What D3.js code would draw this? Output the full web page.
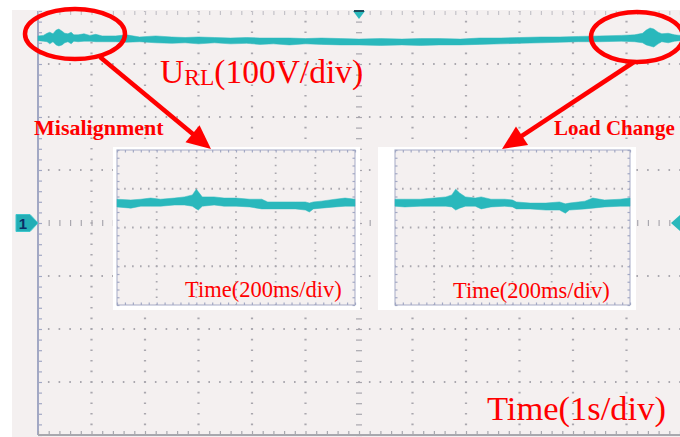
<!DOCTYPE html>
<html><head><meta charset="utf-8">
<script src="https://cdn.jsdelivr.net/npm/d3@7"></script>
<style>html,body{margin:0;padding:0;background:#fff;overflow:hidden}</style>
</head><body><svg id="c" width="680" height="437"></svg>
<script>
// ---- Main record: U_RL, 1 s/div horizontally, 100 V/div vertically ----
const mainTime = [0,0.1,0.17,0.22,0.28,0.34,0.39,0.45,0.5,0.56,0.62,0.67,0.75,0.86,0.97,1.08,1.2,1.45,1.65,1.9,2.2,2.5,2.75,3.0,3.3,3.6,3.9,4.15,4.4,4.7,5.0,5.3,5.65,6.0,6.4,6.8,7.15,7.5,7.9,8.25,8.65,9.0,9.4,9.75,10.1,10.5,10.9,11.15,11.3,11.37,11.44,11.51,11.59,11.66,11.78,11.9,12.0];
const mainHigh = [353,354,358,360,357,364,366,362,358,357,360,355,355,357,354,356,353,353,355,351,353,351,350,351,350,349,350,349,349,349,348,349,348,347,348,347,348,348,347,349,349,350,351,351,352,353,354,355,358,364,368,366,360,357,358,355,354];
const mainLow  = [344,343,342,338,342,336,334,336,340,342,338,343,342,343,343,342,342,342,341,342,340,339,340,338,340,338,339,337,338,336,338,337,336,336,335,336,335,336,336,337,338,339,340,341,342,342,343,342,340,336,334,332,338,342,340,343,344];

// ---- Zoomed record: misalignment, 200 ms/div ----
const misTime = [0,0.07,0.12,0.17,0.22,0.29,0.34,0.38,0.40,0.41,0.43,0.49,0.54,0.60,0.67,0.73,0.76,0.82,0.90,0.95,0.97,0.99,1.03,1.10,1.15,1.2];
const misHigh = [363,361,363,366,363,366,369,374,389,382,369,369,366,366,363,363,356,356,356,356,353,356,358,363,366,363];
const misLow  = [343,340,345,345,345,348,348,345,338,335,345,348,345,345,343,338,338,338,338,335,330,338,340,343,345,345];

// ---- Zoomed record: load change, 200 ms/div ----
const loadTime = [0,0.05,0.13,0.20,0.26,0.29,0.31,0.33,0.36,0.41,0.44,0.49,0.56,0.60,0.62,0.69,0.77,0.84,0.87,0.89,0.97,1.01,1.07,1.15,1.2];
const loadHigh = [363,363,363,366,369,374,389,379,369,366,369,363,363,361,356,353,353,356,351,353,358,366,361,363,366];
const loadLow  = [345,343,345,345,345,343,335,340,345,345,338,343,345,343,338,338,335,335,327,335,338,340,343,345,345];

// ---- Texts ----
const voltLabelMain = "U", voltLabelSub = "RL", voltLabelRest = "(100V/div)";
const mainTimeLabel = "Time(1s/div)";
const zoomTimeLabel = "Time(200ms/div)";
const leftEvent = "Misalignment", rightEvent = "Load Change";

const svg = d3.select("#c");
const TRACE = "#2ab8bc", RED = "#ff0000", GRIDC = "#a9a7ae", BORDER = "#a2a8c4";

svg.append("rect").attr("x",0).attr("y",0).attr("width",680).attr("height",437).attr("fill","#fff");
svg.append("rect").attr("x",12).attr("y",10).attr("width",668).attr("height",427).attr("fill","#f4f0f0");

// scales
const xMain = d3.scaleLinear().domain([0,12]).range([38,680]);
const yMain = d3.scaleLinear().domain([-400,400]).range([435,11]);

function grid(g, x, y, xDivs, yDivs, xMinor, yMinor, centerX, centerY, dotW) {
  const [x0,x1] = x.range(), [yb,yt] = y.range();
  const px = Math.abs(x(xMinor)-x(0)), py = Math.abs(y(yMinor)-y(0));
  xDivs.forEach(t => {
    if (t === centerX) return;
    g.append("line").attr("x1",x(t)).attr("x2",x(t)).attr("y1",yt).attr("y2",yb)
      .attr("stroke",GRIDC).attr("stroke-width",dotW)
      .attr("stroke-dasharray",`1.6 ${py-1.6}`).attr("stroke-dashoffset",0.8);
  });
  yDivs.forEach(v => {
    if (v === centerY) return;
    g.append("line").attr("x1",x0).attr("x2",x1).attr("y1",y(v)).attr("y2",y(v))
      .attr("stroke",GRIDC).attr("stroke-width",dotW)
      .attr("stroke-dasharray",`1.6 ${px-1.6}`).attr("stroke-dashoffset",0.8);
  });
}
function tickAxis(g, axis, tx, ty, color) {
  const a = g.append("g").attr("transform",`translate(${tx},${ty})`).call(axis);
  a.select(".domain").remove();
  a.selectAll(".tick line").attr("stroke",color).attr("stroke-width",1.2);
  a.selectAll("text").remove();
}

const gMain = svg.append("g");
grid(gMain, xMain, yMain, d3.range(1,12), d3.range(-300,301,100), 0.2, 20, 6, 0, 2.2);
const yMinorTicks = d3.range(-400,401,20), xMinorTicks = d3.range(0,12.01,0.2);
tickAxis(gMain, d3.axisRight(yMain).tickValues(yMinorTicks).tickSize(3).tickFormat(""), xMain(6), 0, GRIDC);
tickAxis(gMain, d3.axisLeft(yMain).tickValues(yMinorTicks).tickSize(3).tickFormat(""), xMain(6), 0, GRIDC);
tickAxis(gMain, d3.axisTop(xMain).tickValues(xMinorTicks).tickSize(3).tickFormat(""), 0, yMain(0), GRIDC);
tickAxis(gMain, d3.axisBottom(xMain).tickValues(xMinorTicks).tickSize(3).tickFormat(""), 0, yMain(0), GRIDC);
gMain.append("line").attr("x1",xMain(0)).attr("x2",xMain(0)).attr("y1",yMain(400)).attr("y2",yMain(-400)).attr("stroke",BORDER).attr("stroke-width",2);
tickAxis(gMain, d3.axisRight(yMain).tickValues(yMinorTicks).tickSize(4).tickFormat(""), xMain(0), 0, BORDER);
gMain.append("line").attr("x1",xMain(0)).attr("x2",680).attr("y1",yMain(-400)).attr("y2",yMain(-400)).attr("stroke","#a8a8ae").attr("stroke-width",2);
tickAxis(gMain, d3.axisTop(xMain).tickValues(xMinorTicks).tickSize(4).tickFormat(""), 0, yMain(-400), "#a8a8ae");
tickAxis(gMain, d3.axisBottom(xMain).tickValues(xMinorTicks).tickSize(4).tickFormat(""), 0, yMain(400), "#c4c2c8");

// main trace
const mainData = mainTime.map((t,i)=>({t, hi:mainHigh[i], lo:mainLow[i]}));
svg.append("path").datum(mainData)
  .attr("d", d3.area().x(d=>xMain(d.t)).y0(d=>yMain(d.lo)).y1(d=>yMain(d.hi)))
  .attr("fill",TRACE).attr("stroke",TRACE).attr("stroke-width",0.5);

// markers
svg.append("path").attr("d",`M${xMain(6)-6},11 L${xMain(6)+6},11 L${xMain(6)},19 Z`).attr("fill",TRACE);
svg.append("rect").attr("x",xMain(6)-5).attr("y",10).attr("width",10).attr("height",2).attr("fill","#1f4a5a");
const y0 = yMain(0);
svg.append("path").attr("d",`M16,${y0-8.5} L30,${y0-8.5} L38,${y0} L30,${y0+8.5} L16,${y0+8.5} Z`).attr("fill","#23aeb6").attr("stroke","#3fc6cc");
svg.append("text").attr("x",23).attr("y",y0+6).attr("text-anchor","middle").attr("font-family","Liberation Sans, Arial").attr("font-weight","bold").attr("font-size",15).attr("fill","#0c2c66").text("1");
svg.append("path").attr("d",`M671,${y0} L681,${y0-9} L681,${y0+9} Z`).attr("fill",TRACE);

// insets
function inset(x0, x1, frameL, frameR, times, hi, lo, label, labelX, labelY) {
  const g = svg.append("g");
  g.append("rect").attr("x",frameL).attr("y",147).attr("width",frameR-frameL).attr("height",163).attr("fill","#fff");
  g.append("rect").attr("x",x0).attr("y",150).attr("width",x1-x0).attr("height",155).attr("fill","#f4f0f0");
  const x = d3.scaleLinear().domain([0,1.2]).range([x0,x1]);
  const y = d3.scaleLinear().domain([90,490]).range([305,150]);
  grid(g, x, y, d3.range(0.2,1.19,0.2).map(v=>+v.toFixed(1)), [190,290,390], 0.04, 20, null, null, 1.8);
  const tv = d3.range(0,1.201,0.04), vv = d3.range(90,491,20);
  g.append("rect").attr("x",x0).attr("y",150).attr("width",x1-x0).attr("height",155).attr("fill","none").attr("stroke",BORDER).attr("stroke-width",1.2).attr("stroke-opacity",0.8);
  tickAxis(g, d3.axisBottom(x).tickValues(tv).tickSize(2.5).tickFormat(""), 0, 150, BORDER);
  tickAxis(g, d3.axisTop(x).tickValues(tv).tickSize(2.5).tickFormat(""), 0, 305, BORDER);
  tickAxis(g, d3.axisRight(y).tickValues(vv).tickSize(2.5).tickFormat(""), x0, 0, BORDER);
  tickAxis(g, d3.axisLeft(y).tickValues(vv).tickSize(2.5).tickFormat(""), x1, 0, BORDER);
  const data = times.map((t,i)=>({t, hi:hi[i], lo:lo[i]}));
  g.append("path").datum(data)
    .attr("d", d3.area().x(d=>x(d.t)).y0(d=>y(d.lo)).y1(d=>y(d.hi)))
    .attr("fill",TRACE).attr("stroke",TRACE).attr("stroke-width",0.5);
  g.append("text").attr("x",labelX).attr("y",labelY).attr("font-family","Liberation Serif, Times New Roman, serif")
    .attr("font-size",22.5).attr("fill",RED).text(label);
}
inset(117, 355, 113, 360, misTime, misHigh, misLow, zoomTimeLabel, 185, 297);
inset(395, 630, 378, 636, loadTime, loadHigh, loadLow, zoomTimeLabel, 453, 298);

// annotations
const ann = svg.append("g");
ann.append("ellipse").attr("cx",75).attr("cy",34).attr("rx",50).attr("ry",25).attr("fill","none").attr("stroke",RED).attr("stroke-width",4.5);
ann.append("ellipse").attr("cx",637).attr("cy",37).attr("rx",46).attr("ry",25).attr("fill","none").attr("stroke",RED).attr("stroke-width",4.5);
function arrow(x1,y1,x2,y2) {
  const dx=x2-x1, dy=y2-y1, L=Math.hypot(dx,dy), ux=dx/L, uy=dy/L, hl=24, hw=11;
  const bx=x2-ux*hl, by=y2-uy*hl;
  ann.append("line").attr("x1",x1).attr("y1",y1).attr("x2",bx+ux*2).attr("y2",by+uy*2).attr("stroke",RED).attr("stroke-width",4.5);
  ann.append("path").attr("d",`M${x2},${y2} L${bx-uy*hw},${by+ux*hw} L${bx+uy*hw},${by-ux*hw} Z`).attr("fill",RED);
}
arrow(100,57,211,149);
arrow(634,62,502,149);

const t1 = ann.append("text").attr("x",160).attr("y",83).attr("font-family","Liberation Serif, Times New Roman, serif").attr("font-size",33.5).attr("fill",RED);
t1.append("tspan").text(voltLabelMain);
t1.append("tspan").attr("font-size",23.5).attr("dy",2).text(voltLabelSub);
t1.append("tspan").attr("dy",-2).text(voltLabelRest);
ann.append("text").attr("x",34).attr("y",135).attr("font-family","Liberation Serif, Times New Roman, serif").attr("font-weight","bold").attr("font-size",22).attr("fill",RED).text(leftEvent);
ann.append("text").attr("x",554).attr("y",135).attr("font-family","Liberation Serif, Times New Roman, serif").attr("font-weight","bold").attr("font-size",21).attr("fill",RED).text(rightEvent);
ann.append("text").attr("x",487).attr("y",420).attr("font-family","Liberation Serif, Times New Roman, serif").attr("font-size",34.5).attr("fill",RED).text(mainTimeLabel);
</script></body></html>
